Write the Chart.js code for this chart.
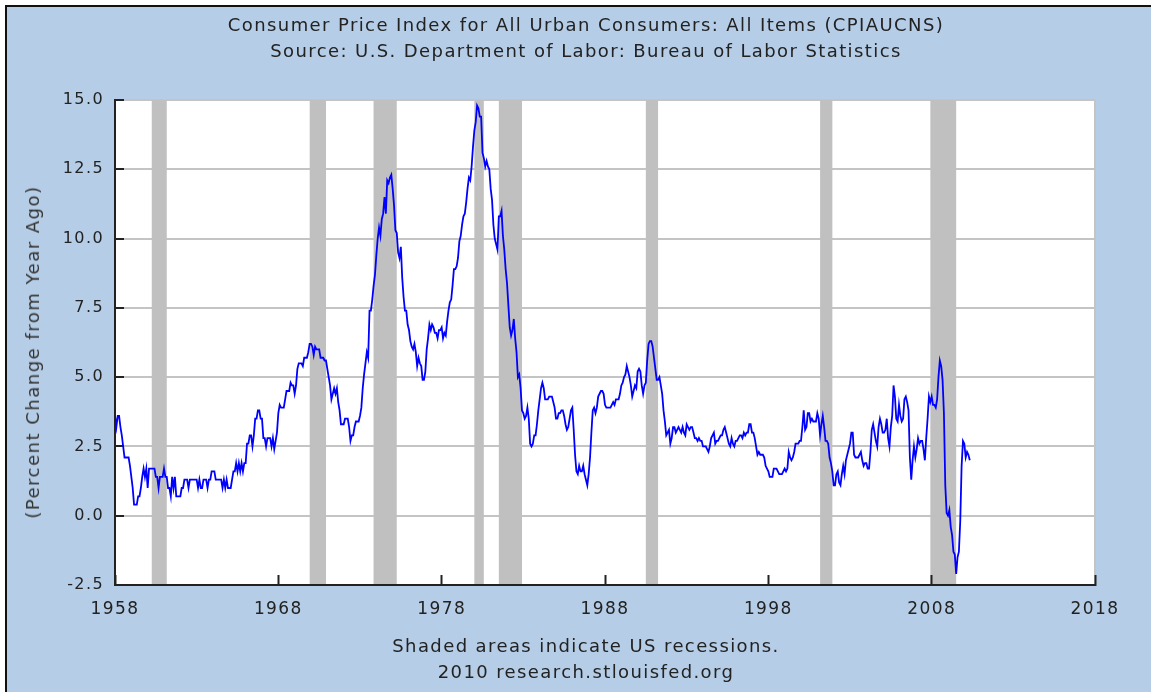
<!DOCTYPE html>
<html>
<head>
<meta charset="utf-8">
<script src="https://cdn.jsdelivr.net/npm/chart.js@4.4.0/dist/chart.umd.min.js"></script>
<style>
  html, body { margin: 0; padding: 0; background: #fff; }
  #frame { position: absolute; left: 5px; top: 5px; width: 1144px; height: 685px;
           border-left: 2px solid #111; border-top: 2px solid #111; background: #b5cde6; }
  #wrap { position: absolute; left: 0; top: 0; width: 1151px; height: 692px; }
  .txt { position: absolute; left: 0; width: 1172px; text-align: center; line-height: 26px;
         font-family: "DejaVu Sans", sans-serif; font-size: 18px; letter-spacing: 1.4px; color: #222; }
  #ytitle { position: absolute; left: 33px; top: 352px; transform: translate(-50%, -50%) rotate(-90deg);
            white-space: nowrap; font-family: "DejaVu Sans", sans-serif; font-size: 18px;
            letter-spacing: 1.5px; line-height: 20px; color: #333; }
</style>
</head>
<body>
<div id="frame"></div>
<div id="wrap"><canvas id="chart"></canvas></div>
<div class="txt" style="top:12px">Consumer Price Index for All Urban Consumers: All Items (CPIAUCNS)<br>Source: U.S. Department of Labor: Bureau of Labor Statistics</div>
<div id="ytitle">(Percent Change from Year Ago)</div>
<div class="txt" style="top:633px">Shaded areas indicate US recessions.<br>2010 research.stlouisfed.org</div>
<script>
// monthly CPI, percent change from a year ago, starting Jan 1958
const startYear = 1958;
const cpi1958to1969 = [
    3.6, 3.2, 3.6, 3.6, 3.2, 2.9, 2.5, 2.1, 2.1, 2.1, 2.1, 1.8,
    1.4, 1.0, 0.4, 0.4, 0.4, 0.7, 0.7, 1.0, 1.4, 1.7, 1.4, 1.7,
    1.0, 1.7, 1.7, 1.7, 1.7, 1.7, 1.4, 1.4, 1.0, 1.4, 1.4, 1.4,
    1.7, 1.4, 1.4, 1.0, 1.0, 0.7, 1.4, 1.0, 1.4, 0.7, 0.7, 0.7,
    0.7, 1.0, 1.0, 1.3, 1.3, 1.3, 1.0, 1.3, 1.3, 1.3, 1.3, 1.3,
    1.3, 1.0, 1.3, 1.0, 1.0, 1.3, 1.3, 1.3, 1.0, 1.3, 1.3, 1.6,
    1.6, 1.6, 1.3, 1.3, 1.3, 1.3, 1.3, 1.0, 1.3, 1.0, 1.3, 1.0,
    1.0, 1.0, 1.3, 1.6, 1.6, 1.9, 1.6, 1.9, 1.6, 1.9, 1.6, 1.9,
    1.9, 2.6, 2.6, 2.9, 2.9, 2.5, 2.9, 3.5, 3.5, 3.8, 3.8, 3.5,
    3.5, 2.8, 2.8, 2.5, 2.8, 2.8, 2.8, 2.5, 2.8, 2.4, 2.7, 3.0,
    3.7, 4.0, 3.9, 3.9, 3.9, 4.2, 4.5, 4.5, 4.5, 4.8, 4.7, 4.7,
    4.4, 4.7, 5.3, 5.5, 5.5, 5.5, 5.4, 5.7, 5.7, 5.7, 5.9, 6.2
];
const cpi1970s = [
    6.2, 6.1, 5.8, 6.1, 6.0, 6.0, 6.0, 5.7, 5.7, 5.7, 5.6, 5.6,
    5.3, 5.0, 4.7, 4.2, 4.4, 4.6, 4.4, 4.6, 4.1, 3.8, 3.3, 3.3,
    3.3, 3.5, 3.5, 3.5, 3.2, 2.7, 2.9, 2.9, 3.2, 3.4, 3.4, 3.4,
    3.6, 3.9, 4.6, 5.1, 5.5, 5.9, 5.7, 7.4, 7.4, 7.8, 8.3, 8.7,
    9.4, 10.0, 10.4, 10.1, 10.7, 10.9, 11.5, 10.9, 12.1, 12.0, 12.2, 12.3,
    11.8, 11.2, 10.3, 10.2, 9.5, 9.3, 9.7, 8.6, 7.9, 7.4, 7.4, 6.9,
    6.7, 6.3, 6.1, 6.0, 6.2, 5.9, 5.4, 5.7, 5.5, 5.4, 4.9, 4.9,
    5.2, 6.0, 6.4, 6.9, 6.7, 6.9, 6.8, 6.6, 6.6, 6.4, 6.7, 6.7,
    6.8, 6.4, 6.6, 6.5, 7.0, 7.4, 7.7, 7.8, 8.3, 8.9, 8.9, 9.0,
    9.3, 9.9, 10.1, 10.5, 10.8, 10.9, 11.3, 11.8, 12.2, 12.1, 12.6, 13.3
];
const cpi1980s = [
    13.9, 14.2, 14.8, 14.7, 14.4, 14.4, 13.1, 12.9, 12.6, 12.8, 12.6, 12.5,
    11.8, 11.4, 10.5, 10.0, 9.8, 9.6, 10.8, 10.8, 11.0, 10.1, 9.6, 8.9,
    8.4, 7.6, 6.8, 6.5, 6.7, 7.1, 6.4, 5.9, 5.0, 5.1, 4.6, 3.8,
    3.7, 3.5, 3.6, 3.9, 3.5, 2.6, 2.5, 2.6, 2.9, 2.9, 3.3, 3.8,
    4.2, 4.6, 4.8, 4.6, 4.2, 4.2, 4.2, 4.3, 4.3, 4.3, 4.1, 3.9,
    3.5, 3.5, 3.7, 3.7, 3.8, 3.8, 3.6, 3.3, 3.1, 3.2, 3.5, 3.8,
    3.9, 3.1, 2.2, 1.6, 1.5, 1.8, 1.6, 1.6, 1.8, 1.5, 1.3, 1.1,
    1.5, 2.1, 3.0, 3.8, 3.9, 3.7, 3.9, 4.3, 4.4, 4.5, 4.5, 4.4,
    4.0, 3.9, 3.9, 3.9, 3.9, 4.0, 4.1, 4.0, 4.2, 4.2, 4.2, 4.4,
    4.7, 4.8, 5.0, 5.1, 5.4, 5.2, 5.0, 4.7, 4.3, 4.5, 4.7, 4.6
];
const cpi1990s = [
    5.2, 5.3, 5.2, 4.7, 4.4, 4.7, 4.8, 5.6, 6.2, 6.3, 6.3, 6.1,
    5.7, 5.3, 4.9, 4.9, 5.0, 4.7, 4.4, 3.8, 3.4, 2.9, 3.0, 3.1,
    2.6, 2.8, 3.2, 3.2, 3.0, 3.1, 3.2, 3.1, 3.0, 3.2, 3.0, 2.9,
    3.3, 3.2, 3.1, 3.2, 3.2, 3.0, 2.8, 2.8, 2.7, 2.8, 2.7, 2.7,
    2.5, 2.5, 2.5, 2.4, 2.3, 2.5, 2.8, 2.9, 3.0, 2.6, 2.7, 2.7,
    2.8, 2.9, 2.9, 3.1, 3.2, 3.0, 2.8, 2.6, 2.5, 2.8, 2.6, 2.5,
    2.7, 2.7, 2.8, 2.9, 2.9, 2.8, 3.0, 2.9, 3.0, 3.0, 3.3, 3.3,
    3.0, 3.0, 2.8, 2.5, 2.2, 2.3, 2.2, 2.2, 2.2, 2.1, 1.8, 1.7,
    1.6, 1.4, 1.4, 1.4, 1.7, 1.7, 1.7, 1.6, 1.5, 1.5, 1.5, 1.6,
    1.7, 1.6, 1.7, 2.3, 2.1, 2.0, 2.1, 2.3, 2.6, 2.6, 2.6, 2.7
];
const cpi2000s = [
    2.7, 3.2, 3.8, 3.1, 3.2, 3.7, 3.7, 3.4, 3.5, 3.4, 3.4, 3.4,
    3.7, 3.5, 2.9, 3.3, 3.6, 3.2, 2.7, 2.7, 2.6, 2.1, 1.9, 1.6,
    1.1, 1.1, 1.5, 1.6, 1.2, 1.1, 1.5, 1.8, 1.5, 2.0, 2.2, 2.4,
    2.6, 3.0, 3.0, 2.2, 2.1, 2.1, 2.1, 2.2, 2.3, 2.0, 1.8, 1.9,
    1.9, 1.7, 1.7, 2.3, 3.1, 3.3, 3.0, 2.7, 2.5, 3.2, 3.5, 3.3,
    3.0, 3.0, 3.1, 3.5, 2.8, 2.5, 3.2, 3.6, 4.7, 4.3, 3.5, 3.4,
    4.0, 3.6, 3.4, 3.5, 4.2, 4.3, 4.1, 3.8, 2.1, 1.3, 2.0, 2.5,
    2.1, 2.4, 2.8, 2.6, 2.7, 2.7, 2.4, 2.0, 2.8, 3.5, 4.3, 4.1,
    4.3, 4.0, 4.0, 3.9, 4.2, 5.0, 5.6, 5.4, 4.9, 3.7, 1.1, 0.1,
    0.0, 0.2, -0.4, -0.7, -1.3, -1.4, -2.1, -1.5, -1.3, -0.2, 1.8, 2.7
];
const cpi2010 = [2.6, 2.1, 2.3, 2.2, 2.0];

// NBER recessions, as decimal years
const recessionStart = [1960.25, 1969.92, 1973.83, 1980.0, 1981.5, 1990.5, 2001.17, 2007.92];
const recessionEnd   = [1961.17, 1970.92, 1975.25, 1980.58, 1982.92, 1991.25, 2001.92, 2009.5];

const xTicks = [1958, 1968, 1978, 1988, 1998, 2008, 2018];
const yTicks = [-2.5, 0, 2.5, 5, 7.5, 10, 12.5, 15];

const cpiValues = [].concat(cpi1958to1969, cpi1970s, cpi1980s, cpi1990s, cpi2000s, cpi2010);
const cpiPoints = cpiValues.map((v, i) => ({ x: startYear + i / 12, y: v }));

// the original renders its labels slightly spaced out
const textSpacing = {
    id: 'textSpacing',
    beforeUpdate(chart) { chart.ctx.letterSpacing = '1.4px'; },
    beforeDraw(chart) { chart.ctx.letterSpacing = '1.4px'; }
};

const plotBackground = {
    id: 'plotBackground',
    beforeDraw(chart) {
        const { ctx, chartArea: a } = chart;
        ctx.save();
        ctx.fillStyle = '#fff';
        ctx.fillRect(a.left, a.top, a.width, a.height);
        ctx.strokeStyle = '#c4c4c4';
        ctx.lineWidth = 2;
        ctx.beginPath();
        ctx.moveTo(a.right, a.top);
        ctx.lineTo(a.right, a.bottom);
        ctx.stroke();
        ctx.restore();
    }
};

const recessionShading = {
    id: 'recessionShading',
    beforeDatasetsDraw(chart) {
        const { ctx, chartArea: a, scales: { x } } = chart;
        ctx.save();
        ctx.fillStyle = '#c0c0c0';
        for (let i = 0; i < recessionStart.length; i++) {
            const x0 = x.getPixelForValue(recessionStart[i]);
            const x1 = x.getPixelForValue(recessionEnd[i]);
            ctx.fillRect(x0, a.top, x1 - x0, a.height);
        }
        ctx.restore();
    }
};

Chart.defaults.font.family = '"DejaVu Sans", sans-serif';

new Chart(document.getElementById('chart'), {
    type: 'line',
    data: {
        datasets: [{
            data: cpiPoints,
            borderColor: '#0000ff',
            borderWidth: 1.8,
            pointRadius: 0,
            tension: 0
        }]
    },
    options: {
        responsive: true,
        maintainAspectRatio: false,
        animation: false,
        layout: { padding: { left: 20, right: 56, top: 100, bottom: 59 } },
        plugins: { legend: { display: false }, tooltip: { enabled: false } },
        scales: {
            x: {
                type: 'linear',
                min: 1958,
                max: 2018,
                afterFit: s => { s.height = 48; },
                afterBuildTicks: s => { s.ticks = xTicks.map(v => ({ value: v })); },
                grid: { drawOnChartArea: false, tickLength: -10, tickColor: '#222', tickWidth: 2, z: 1 },
                border: { color: '#222', width: 2, z: 1 },
                ticks: {
                    padding: 24,
                    color: '#222',
                    font: { size: 17 },
                    maxRotation: 0,
                    autoSkip: false,
                    callback: v => String(v)
                }
            },
            y: {
                min: -2.5,
                max: 15,
                afterFit: s => { s.width = 95; },
                afterBuildTicks: s => { s.ticks = yTicks.map(v => ({ value: v })); },
                grid: { color: '#c4c4c4', lineWidth: 2, tickLength: -9, tickColor: '#222', tickWidth: 2 },
                border: { color: '#222', width: 2 },
                ticks: {
                    padding: 20,
                    color: '#222',
                    font: { size: 16 },
                    callback: v => v.toFixed(1)
                }
            }
        }
    },
    plugins: [textSpacing, plotBackground, recessionShading]
});
</script>
</body>
</html>
